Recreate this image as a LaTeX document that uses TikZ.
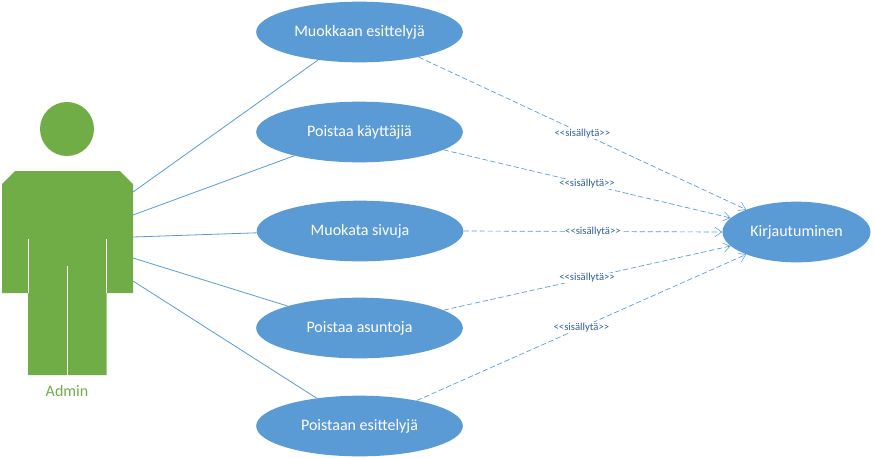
\documentclass[tikz,border=0pt]{standalone}
\usepackage{fontspec}
\setmainfont{Carlito}
\usetikzlibrary{arrows.meta,shapes.geometric}
\definecolor{ublue}{HTML}{5B9BD5}
\definecolor{ugreen}{HTML}{70AD47}
\definecolor{lblue}{HTML}{2F5F9E}
\newcommand{\inctext}{{<}{<}sisällytä{>}{>}}
\tikzset{
  usecase/.style={ellipse,draw=none,fill=ublue,text=white,minimum width=155pt,minimum height=45.5pt,inner sep=0pt,text height=9pt,text depth=2.2pt,font=\fontsize{12}{14}\selectfont},
  assoc/.style={draw=ublue,line width=0.6pt},
  incl/.style={draw=ublue,line width=0.5pt,dash pattern=on 4pt off 2pt,-{Straight Barb[length=5pt,width=7pt,line width=0.4pt]}},
  inclabel/.style={fill=white,inner sep=0.5pt,text=lblue,font=\fontsize{8}{9}\selectfont},
  limb/.style={draw=white,line width=0.6pt},
}
\begin{document}
\begin{tikzpicture}[x=0.75pt,y=-0.75pt]
\useasboundingbox (0,0) rectangle (873,458);
\fill[white] (0,0) rectangle (873,458);
% actor
\node[circle,fill=ugreen,minimum size=40.5pt,inner sep=0pt] (head) at (67,129) {};
\fill[ugreen] (2,184) -- (15,171) -- (120,171) -- (133,184) -- (133,293) -- (106.5,293) -- (106.5,375) -- (28,375) -- (28,293) -- (2,293) -- cycle;
\coordinate (a1) at (133,192);
\coordinate (a2) at (133,215);
\coordinate (a3) at (133,237);
\coordinate (a4) at (133,258);
\coordinate (a5) at (133,281);
\coordinate (ll1) at (28,239); \coordinate (ll2) at (28,293);
\coordinate (lr1) at (106.5,239); \coordinate (lr2) at (106.5,293);
\coordinate (lc1) at (67.5,266); \coordinate (lc2) at (67.5,375);
\draw[limb] (ll1) -- (ll2);
\draw[limb] (lr1) -- (lr2);
\draw[limb] (lc1) -- (lc2);
\node[text=ugreen,font=\fontsize{12}{14}\selectfont] (admin) at (67,391) {Admin};
% use cases
\node[usecase] (e1) at (359.5,32) {Muokkaan esittelyjä};
\node[usecase] (e2) at (359.5,132) {Poistaa käyttäjiä};
\node[usecase] (e3) at (360,231) {Muokata sivuja};
\node[usecase] (e4) at (359.5,328) {Poistaa asuntoja};
\node[usecase] (e5) at (359.5,426) {Poistaan esittelyjä};
\node[usecase,minimum width=111pt] (k) at (796.5,232) {Kirjautuminen};
% associations
\draw[assoc] (a1) -- (e1.214);
\draw[assoc] (a2) -- (e2.200.6);
\draw[assoc] (a3) -- (e3.181);
\draw[assoc] (a4) -- (e4.163);
\draw[assoc] (a5) -- (e5.147);
% includes
\draw[incl] (e1.-23.9) -- node[inclabel] {\inctext} (k.156);
\draw[incl] (e2.-12.8) -- node[inclabel] {\inctext} (k.168);
\draw[incl] (e3.0) -- node[inclabel] {\inctext} (k.180);
\draw[incl] (e4.12.7) -- node[inclabel] {\inctext} (k.192);
\draw[incl] (e5.24) -- node[inclabel] {\inctext} (k.204);
\end{tikzpicture}
\end{document}
